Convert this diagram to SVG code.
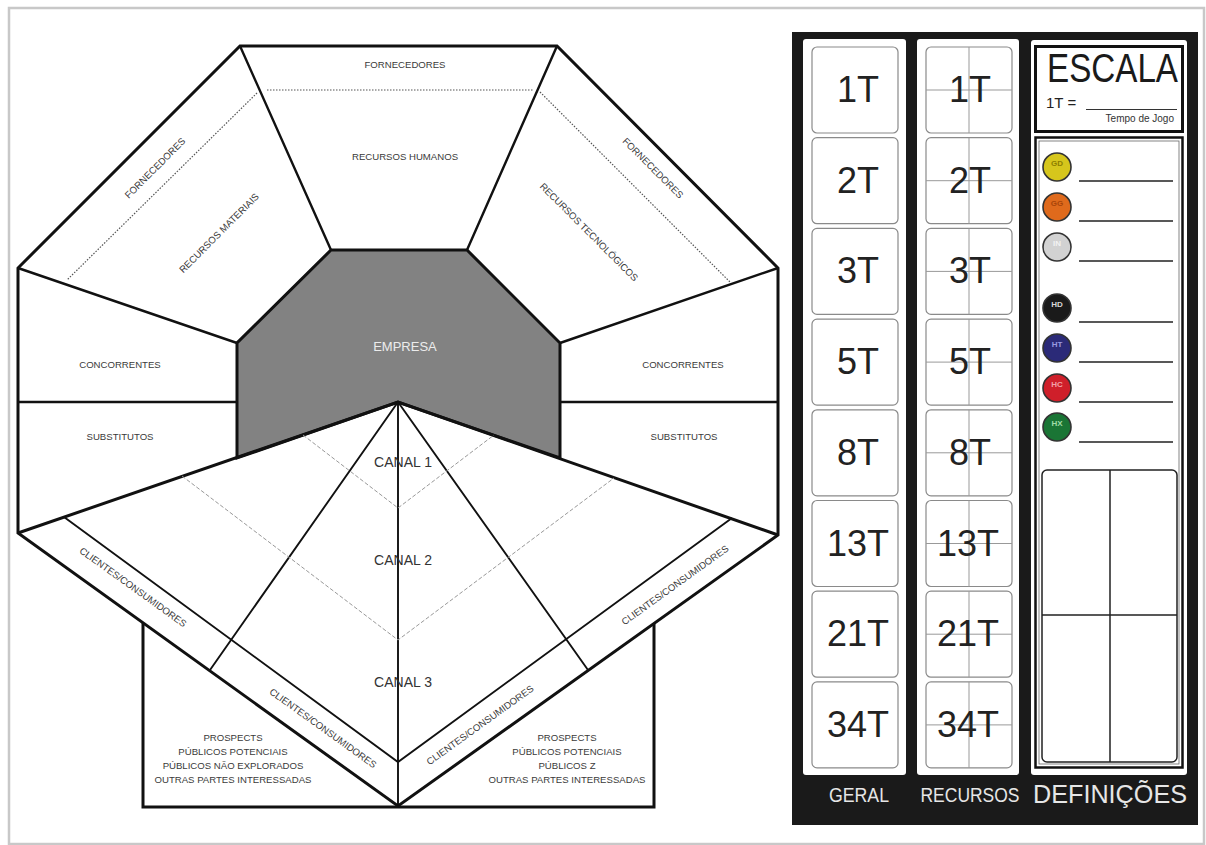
<svg xmlns="http://www.w3.org/2000/svg" width="1206" height="845" viewBox="0 0 1206 845">
<style>
.lbl{font-family:"Liberation Sans",Arial,sans-serif;font-size:9.6px;fill:#3a3a3a;text-anchor:middle}
.canal{font-family:"Liberation Sans",Arial,sans-serif;font-size:14px;fill:#333;text-anchor:middle}
.num{font-family:"Liberation Sans",Arial,sans-serif;font-size:36px;fill:#222;text-anchor:middle}
.col{font-family:"Liberation Sans",Arial,sans-serif;fill:#e6e6e6;text-anchor:middle}
.thick{fill:none;stroke:#111;stroke-width:3;stroke-linejoin:miter}
.mid{fill:none;stroke:#111;stroke-width:2.4}
.thin{fill:none;stroke:#111;stroke-width:1.9}
.dot{fill:none;stroke:#555;stroke-width:1.2;stroke-dasharray:1.5 1.5}
.dash{fill:none;stroke:#999;stroke-width:1;stroke-dasharray:4 2}
.box{fill:#fff;stroke:#8a8a8a;stroke-width:1.2}
.cross{stroke:#999;stroke-width:1}
.leg{stroke:#333;stroke-width:1.6}
.dl{stroke:#222;stroke-width:1.6}
.ctx{font-family:"Liberation Sans",Arial,sans-serif;font-size:8px;text-anchor:middle;font-weight:bold}
</style>
<rect x="0" y="0" width="1206" height="845" fill="#fff"/>
<rect x="9" y="8" width="1195" height="836" fill="#fff" stroke="#c8c8c8" stroke-width="2.5"/>

<g id="board">
  <g id="empresa">
    <polygon points="331,250 467,250 560,343 560,458 398,402 237,458 237,343" fill="#828282" stroke="#111" stroke-width="3"/>
    <text x="405" y="351" font-family="Liberation Sans,Arial,sans-serif" font-size="13" fill="#ececec" text-anchor="middle">EMPRESA</text>
  </g>
  <g id="connectors">
    <path class="thick" d="M240,46 L557,46 L778,268 L778,535 L398,806 L18,533 L18,268 Z"/>
    <path class="mid" d="M240,46 L331,250 M557,46 L467,250 M18,268 L237,343 M778,268 L560,343 M18,402 L237,402 M560,402 L778,402"/>
    <path class="thick" d="M18,533 L398,402 L778,535"/>
    <path class="thin" d="M398,402 L398,806 M398,402 L210,670 M398,402 L588,670"/>
    <path class="thin" d="M64,517 L398,762 L732,518"/>
    <path class="thick" d="M143,623 L143,807 L654,807 L654,623"/>
    <path class="dot" d="M267,90 L533,90 M257,93 L67,280 M540,92 L730,282"/>
    <path class="dash" d="M182,476 L398,640 L614,478 M303,435 L398,508 L494,435"/>
  </g>
  <g id="fornecedores-top">
    <text class="lbl" x="405" y="68">FORNECEDORES</text>
    <text class="lbl" x="405" y="160">RECURSOS HUMANOS</text>
  </g>
  <g id="materiais">
    <text class="lbl" transform="translate(155,168) rotate(-45)" y="3.4">FORNECEDORES</text>
    <text class="lbl" transform="translate(219,233) rotate(-45)" y="3.4">RECURSOS MATERIAIS</text>
  </g>
  <g id="tecnologicos">
    <text class="lbl" transform="translate(653,168) rotate(45)" y="3.4">FORNECEDORES</text>
    <text class="lbl" transform="translate(589,232) rotate(45)" y="3.4">RECURSOS TECNOLÓGICOS</text>
  </g>
  <g id="concorrentes-l"><text class="lbl" x="120" y="368">CONCORRENTES</text></g>
  <g id="substitutos-l"><text class="lbl" x="120" y="440">SUBSTITUTOS</text></g>
  <g id="concorrentes-r"><text class="lbl" x="683" y="368">CONCORRENTES</text></g>
  <g id="substitutos-r"><text class="lbl" x="684" y="440">SUBSTITUTOS</text></g>
  <g id="canais">
    <text class="canal" x="403" y="467">CANAL 1</text>
    <text class="canal" x="403" y="565">CANAL 2</text>
    <text class="canal" x="403" y="687">CANAL 3</text>
  </g>
  <g id="clientes">
    <text class="lbl" transform="translate(133,587) rotate(35.7)" y="3.4">CLIENTES/CONSUMIDORES</text>
    <text class="lbl" transform="translate(323,728) rotate(35.7)" y="3.4">CLIENTES/CONSUMIDORES</text>
    <text class="lbl" transform="translate(675,585) rotate(-35.7)" y="3.4">CLIENTES/CONSUMIDORES</text>
    <text class="lbl" transform="translate(480,725) rotate(-35.7)" y="3.4">CLIENTES/CONSUMIDORES</text>
  </g>
  <g id="prospects-l">
    <text class="lbl" x="233" y="741">PROSPECTS</text>
    <text class="lbl" x="233" y="755">PÚBLICOS POTENCIAIS</text>
    <text class="lbl" x="233" y="769">PÚBLICOS NÃO EXPLORADOS</text>
    <text class="lbl" x="233" y="783">OUTRAS PARTES INTERESSADAS</text>
  </g>
  <g id="prospects-r">
    <text class="lbl" x="567" y="741">PROSPECTS</text>
    <text class="lbl" x="567" y="755">PÚBLICOS POTENCIAIS</text>
    <text class="lbl" x="567" y="769">PÚBLICOS Z</text>
    <text class="lbl" x="567" y="783">OUTRAS PARTES INTERESSADAS</text>
  </g>
</g>

<g id="panel">
  <rect x="792" y="32" width="406" height="793" fill="#1a1a1a"/>
  <g id="geral">
    <rect x="803" y="39" width="103" height="736" rx="3" fill="#fff"/>
    <rect class="box" x="812" y="47" width="86" height="86" rx="5"/>
    <rect class="box" x="812" y="137.7" width="86" height="86" rx="5"/>
    <rect class="box" x="812" y="228.4" width="86" height="86" rx="5"/>
    <rect class="box" x="812" y="319.1" width="86" height="86" rx="5"/>
    <rect class="box" x="812" y="409.8" width="86" height="86" rx="5"/>
    <rect class="box" x="812" y="500.5" width="86" height="86" rx="5"/>
    <rect class="box" x="812" y="591.2" width="86" height="86" rx="5"/>
    <rect class="box" x="812" y="681.9" width="86" height="86" rx="5"/>
    <text class="num" x="858" y="102">1T</text>
    <text class="num" x="858" y="192.7">2T</text>
    <text class="num" x="858" y="283.4">3T</text>
    <text class="num" x="858" y="374.1">5T</text>
    <text class="num" x="858" y="464.8">8T</text>
    <text class="num" x="858" y="555.5">13T</text>
    <text class="num" x="858" y="646.2">21T</text>
    <text class="num" x="858" y="736.9">34T</text>
    <text class="col" x="859" y="802" font-size="20" textLength="60" lengthAdjust="spacingAndGlyphs">GERAL</text>
  </g>
  <g id="recursos">
    <rect x="917" y="39" width="102" height="736" rx="3" fill="#fff"/>
    <rect class="box" x="926" y="47" width="86" height="86" rx="5"/>
    <rect class="box" x="926" y="137.7" width="86" height="86" rx="5"/>
    <rect class="box" x="926" y="228.4" width="86" height="86" rx="5"/>
    <rect class="box" x="926" y="319.1" width="86" height="86" rx="5"/>
    <rect class="box" x="926" y="409.8" width="86" height="86" rx="5"/>
    <rect class="box" x="926" y="500.5" width="86" height="86" rx="5"/>
    <rect class="box" x="926" y="591.2" width="86" height="86" rx="5"/>
    <rect class="box" x="926" y="681.9" width="86" height="86" rx="5"/>
    <path class="cross" d="M969,47 V133 M926,90 H1012 M969,137.7 V223.7 M926,180.7 H1012 M969,228.4 V314.4 M926,271.4 H1012 M969,319.1 V405.1 M926,362.1 H1012 M969,409.8 V495.8 M926,452.8 H1012 M969,500.5 V586.5 M926,543.5 H1012 M969,591.2 V677.2 M926,634.2 H1012 M969,681.9 V767.9 M926,724.9 H1012"/>
    <text class="num" x="970" y="102">1T</text>
    <text class="num" x="970" y="192.7">2T</text>
    <text class="num" x="970" y="283.4">3T</text>
    <text class="num" x="970" y="374.1">5T</text>
    <text class="num" x="970" y="464.8">8T</text>
    <text class="num" x="968" y="555.5">13T</text>
    <text class="num" x="968" y="646.2">21T</text>
    <text class="num" x="968" y="736.9">34T</text>
    <text class="col" x="970" y="802" font-size="20" textLength="99" lengthAdjust="spacingAndGlyphs">RECURSOS</text>
  </g>
  <g id="definicoes">
    <rect x="1031" y="40" width="156" height="735" rx="3" fill="#fff"/>
    <rect x="1035.5" y="46.5" width="147" height="85" fill="#fff" stroke="#111" stroke-width="3"/>
    <text x="1047" y="82" font-family="Liberation Sans,Arial,sans-serif" font-size="40" fill="#1a1a1a" textLength="131" lengthAdjust="spacingAndGlyphs">ESCALA</text>
    <text x="1046" y="108" font-family="Liberation Sans,Arial,sans-serif" font-size="15" fill="#222">1T =</text>
    <line x1="1086" y1="109.5" x2="1177" y2="109.5" stroke="#333" stroke-width="1"/>
    <text x="1174" y="122" font-family="Liberation Sans,Arial,sans-serif" font-size="10" fill="#333" text-anchor="end">Tempo de Jogo</text>
    <rect x="1035.5" y="137.5" width="147" height="630" fill="#fff" stroke="#111" stroke-width="2.5"/>
    <rect x="1039" y="141" width="140" height="623" fill="none" stroke="#666" stroke-width="0.8"/>
    <g id="legenda">
      <circle class="leg" cx="1057" cy="167" r="14" fill="#d6c61c"/>
      <text class="ctx" x="1057" y="166" fill="#8d7f00">GD</text>
      <circle class="leg" cx="1057" cy="207" r="14" fill="#df6a1c"/>
      <text class="ctx" x="1057" y="206" fill="#a8450a">GG</text>
      <circle class="leg" cx="1057" cy="247" r="14" fill="#d2d2d2"/>
      <text class="ctx" x="1057" y="246" fill="#f2f2f2">IN</text>
      <circle class="leg" cx="1057" cy="308" r="14" fill="#1a1a1a"/>
      <text class="ctx" x="1057" y="307" fill="#d8d8d8">HD</text>
      <circle class="leg" cx="1057" cy="348" r="14" fill="#2b2a78"/>
      <text class="ctx" x="1057" y="347" fill="#9a9ae0">HT</text>
      <circle class="leg" cx="1057" cy="388" r="14" fill="#cf1f2a"/>
      <text class="ctx" x="1057" y="387" fill="#f3a0a8">HC</text>
      <circle class="leg" cx="1057" cy="427" r="14" fill="#1a7535"/>
      <text class="ctx" x="1057" y="426" fill="#a0dca8">HX</text>
      <path class="dl" d="M1079,181 H1173 M1079,221 H1173 M1079,261 H1173 M1079,322 H1173 M1079,362 H1173 M1079,402 H1173 M1079,442 H1173"/>
    </g>
    <rect x="1042" y="470" width="135" height="292" rx="5" fill="#fff" stroke="#222" stroke-width="1.5"/>
    <path d="M1110,470 V762 M1042,615 H1177" stroke="#222" stroke-width="1.5"/>
    <text class="col" x="1110" y="803" font-size="25" textLength="154" lengthAdjust="spacingAndGlyphs">DEFINIÇÕES</text>
  </g>
</g>
</svg>
